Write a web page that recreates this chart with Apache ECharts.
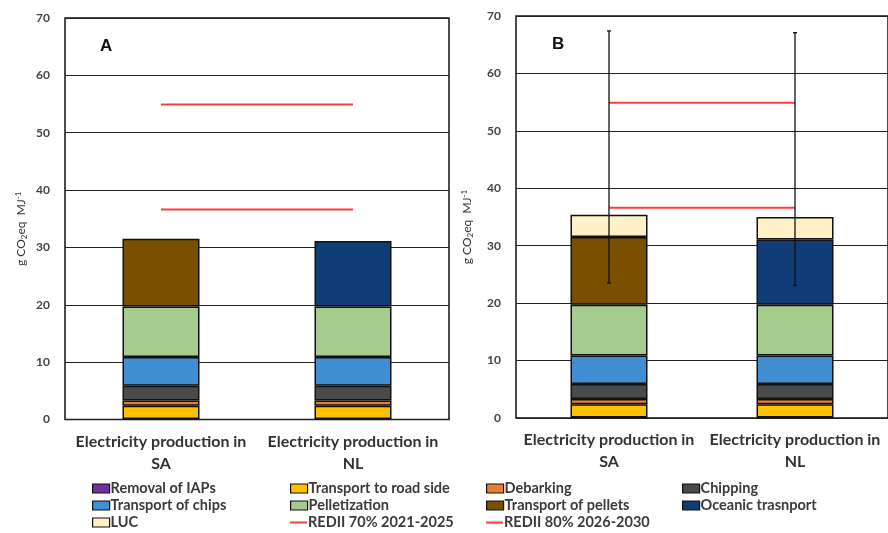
<!DOCTYPE html>
<html>
<head>
<meta charset="utf-8">
<script src="https://cdn.jsdelivr.net/npm/echarts@6/dist/echarts.min.js"></script>
<style>html,body{margin:0;padding:0;background:#fff}#c{width:888px;height:533px}</style>
</head>
<body>
<div id="c"></div>
<script>
// ---- data ----
var categories = ['Electricity production in\nSA', 'Electricity production in\nNL'];
var yTicks = [0, 10, 20, 30, 40, 50, 60, 70];
var removalIAPs = [0.1, 0.1];
var transportRoadSide = [2.3, 2.3];
var debarking = [0.9, 0.9];
var chipping = [2.6, 2.6];
var transportChips = [5.0, 5.0];
var pelletization = [8.8, 8.8];
var transportPellets = [11.8, '-'];
var oceanicTransport = ['-', 11.4];
var lucB = [3.9, 3.9];
var errLowB = [23.5, 23.1];
var errHighB = [67.4, 67.1];
var redii70 = [54.9, 54.9];
var redii80 = [36.6, 36.6];

var F = 'Lato, "Open Sans", sans-serif';
var components = [
  {name: 'Removal of IAPs', data: removalIAPs, color: '#7030a0'},
  {name: 'Transport to road side', data: transportRoadSide, color: '#ffc000'},
  {name: 'Debarking', data: debarking, color: '#ed7d31'},
  {name: 'Chipping', data: chipping, color: '#4a4a4a'},
  {name: 'Transport of chips', data: transportChips, color: '#3f8fd2'},
  {name: 'Pelletization', data: pelletization, color: '#a5cc8e'},
  {name: 'Transport of pellets', data: transportPellets, color: '#7a5000'},
  {name: 'Oceanic trasnport', data: oceanicTransport, color: '#103c78'}
];
var lucItem = {name: 'LUC', data: lucB, color: '#fff0c8'};
var redColor = '#ff3a3a';

var series = [];
function addBars(item, panel) {
  series.push({
    name: item.name, type: 'bar', stack: 'p' + panel,
    xAxisIndex: panel, yAxisIndex: panel,
    barWidth: 77, data: item.data,
    itemStyle: {color: item.color, borderColor: '#111', borderWidth: 1.5},
    emphasis: {disabled: true}, z: 3
  });
}
components.forEach(function (c) { addBars(c, 0); });
components.forEach(function (c) { addBars(c, 1); });
addBars(lucItem, 1);
[0, 1].forEach(function (p) {
  series.push({name: 'REDII 70% 2021-2025', type: 'line', xAxisIndex: p, yAxisIndex: p,
    data: redii70, symbol: 'none', lineStyle: {color: redColor, width: 2}, itemStyle: {color: redColor}, z: 4});
  series.push({name: 'REDII 80% 2026-2030', type: 'line', xAxisIndex: p, yAxisIndex: p,
    data: redii80, symbol: 'none', lineStyle: {color: redColor, width: 2}, itemStyle: {color: redColor}, z: 4});
});
series.push({
  type: 'custom', xAxisIndex: 1, yAxisIndex: 1, z: 6,
  data: categories.map(function (c, i) { return [i, errLowB[i], errHighB[i]]; }),
  renderItem: function (params, api) {
    var lo = api.coord([api.value(0), api.value(1)]);
    var hi = api.coord([api.value(0), api.value(2)]);
    var st = {stroke: '#111', lineWidth: 1.3};
    return {type: 'group', children: [
      {type: 'line', shape: {x1: lo[0], y1: lo[1], x2: hi[0], y2: hi[1]}, style: st},
      {type: 'line', shape: {x1: lo[0] - 2, y1: lo[1], x2: lo[0] + 2, y2: lo[1]}, style: st},
      {type: 'line', shape: {x1: hi[0] - 2, y1: hi[1], x2: hi[0] + 2, y2: hi[1]}, style: st}
    ]};
  }
});

// legend layout
var legendNames = [
  ['Removal of IAPs', 'Transport to road side', 'Debarking', 'Chipping'],
  ['Transport of chips', 'Pelletization', 'Transport of pellets', 'Oceanic trasnport'],
  ['LUC', 'REDII 70% 2021-2025', 'REDII 80% 2026-2030']
];
var colX = [92, 290, 486, 682];
var rowY = [489, 506, 523];
var legends = [];
legendNames.forEach(function (row, r) {
  row.forEach(function (n, c) {
    var isLine = n.indexOf('REDII') === 0;
    legends.push({
      data: [n], left: colX[c], top: rowY[r] - 8, padding: 0,
      itemWidth: 17, itemHeight: isLine ? 2 : 9, itemGap: 0,
      icon: 'rect', selectedMode: false,
      itemStyle: isLine ? {color: redColor, borderWidth: 0} : {borderColor: '#111', borderWidth: 1.2},
      textStyle: {fontFamily: F, fontSize: 14.5, fontWeight: 'bold', color: '#3a3a3a', padding: [0, 0, 0, -4]}
    });
  });
});

function yAxis(idx, gap) {
  return {
    type: 'value', gridIndex: idx, min: 0, max: 70, interval: 10,
    axisLine: {show: false}, axisTick: {show: false},
    axisLabel: {fontFamily: F, fontSize: 12, fontWeight: 'bold', color: '#444', margin: 15,
      formatter: function (v) { return yTicks.indexOf(v) >= 0 ? String(v) : ''; }},
    splitLine: {lineStyle: {color: '#222', width: 1.2}},
    name: 'g CO{sub|2}eq  MJ{sup|-1}', nameLocation: 'middle', nameRotate: 90, nameGap: gap,
    nameTextStyle: {fontFamily: F, fontSize: 12, color: '#333', padding: [0, 20, 0, 0],
      rich: {sub: {fontSize: 8, fontFamily: F, color: '#333', padding: [6, 0, 0, 0]},
             sup: {fontSize: 8, fontFamily: F, color: '#333', padding: [0, 0, 7, 0]}}}
  };
}
function xAxis(idx) {
  return {
    type: 'category', gridIndex: idx, data: categories,
    axisLine: {show: false}, axisTick: {show: false},
    axisLabel: {fontFamily: F, fontSize: 16, fontWeight: 'bold', color: '#333', lineHeight: 22, margin: 11, interval: 0}
  };
}

var option = {
  animation: false,
  backgroundColor: '#fff',
  grid: [
    {left: 65, top: 18, width: 384, height: 401.5, show: true, borderColor: '#111', borderWidth: 1.5, backgroundColor: 'transparent'},
    {left: 516, top: 16, width: 384, height: 402, show: true, borderColor: '#111', borderWidth: 1.5, backgroundColor: 'transparent'}
  ],
  xAxis: [xAxis(0), xAxis(1)],
  yAxis: [yAxis(0, 36), yAxis(1, 41)],
  legend: legends,
  graphic: [
    {type: 'text', left: 100, top: 38, style: {text: 'A', font: 'bold 17px "Liberation Sans", Arial, sans-serif', fill: '#111'}},
    {type: 'text', left: 552, top: 36, style: {text: 'B', font: 'bold 17px "Liberation Sans", Arial, sans-serif', fill: '#111'}}
  ],
  series: series
};
echarts.init(document.getElementById('c')).setOption(option);
</script>
</body>
</html>
